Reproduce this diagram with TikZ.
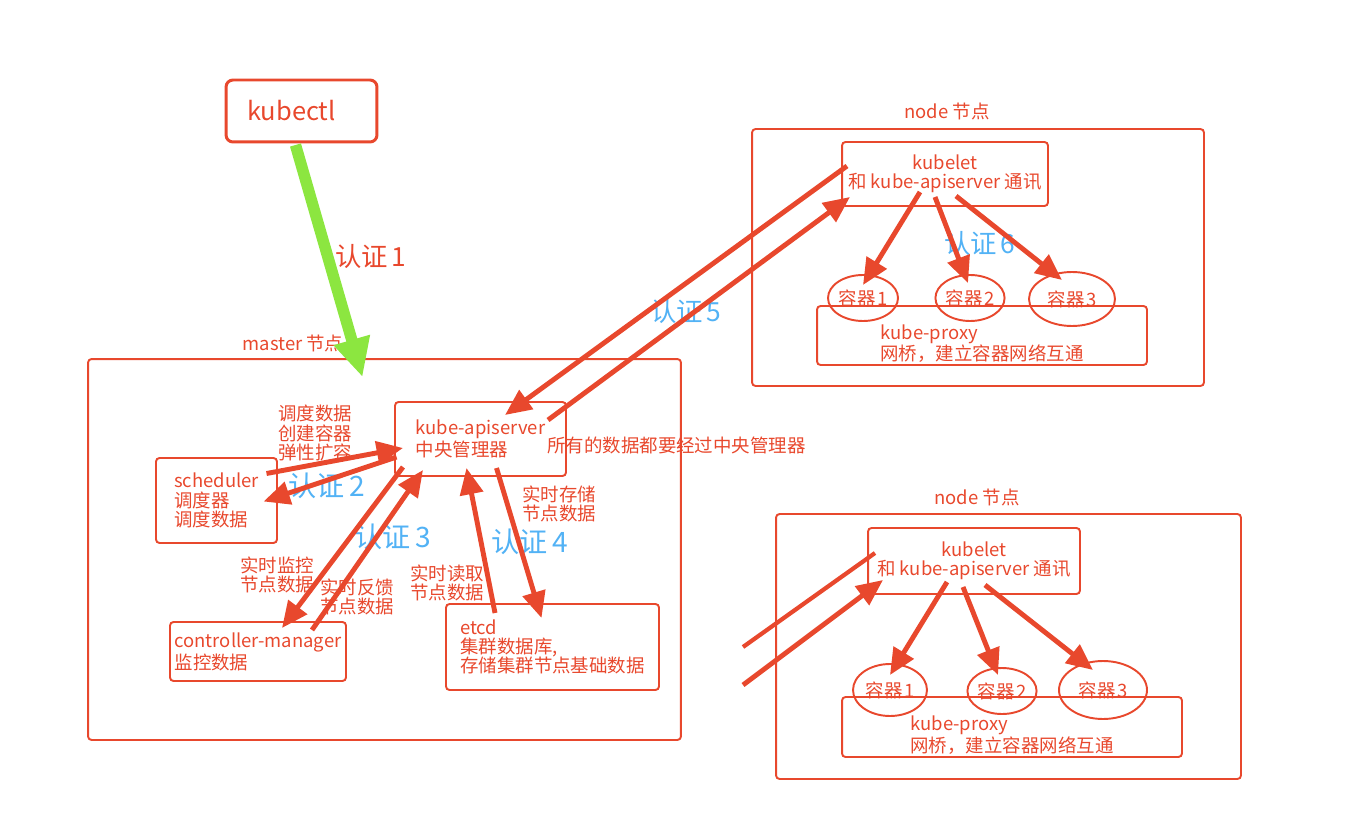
\documentclass[tikz,border=0pt]{standalone}
\usepackage{fontspec}
\setmainfont{Noto Sans CJK SC}
\usepackage{xcolor}
\usepackage{tikz}
\usetikzlibrary{positioning, arrows.meta, shapes.geometric, calc}

\definecolor{kred}{RGB}{232,72,45}
\definecolor{kblue}{RGB}{82,178,245}
\definecolor{kgreen}{RGB}{140,230,64}

\begin{document}
\begin{tikzpicture}[
        x=0.02cm, y=-0.02cm,
        every node/.style={font=\fontsize{10.5}{11}\selectfont, text=kred},
        box/.style={draw=kred, line width=1.1pt, rounded corners=2pt, rectangle, align=left, inner sep=0pt},
        region/.style={draw=kred, line width=1.1pt, rounded corners=2pt, rectangle, inner sep=0pt},
        pod/.style={draw=kred, line width=1.1pt, ellipse, inner sep=0pt},
        note/.style={align=left, anchor=west, inner sep=0pt},
        auth/.style={text=kblue, font=\fontsize{16}{18}\selectfont, inner sep=0pt},
        flow/.style={draw=kred, line width=2.8pt, -{Triangle[length=15pt, width=13pt]}},
        link/.style={draw=kred, line width=2.4pt},
        push/.style={draw=kgreen, line width=6.5pt, -{Triangle[length=22pt, width=20pt]}}
    ]
    \useasboundingbox (0,0) rectangle (1348,831);

    % --- Client ---
    \node[box, line width=1.7pt, rounded corners=4pt, align=center, minimum width=3.02cm, minimum height=1.24cm, font=\fontsize{14.5}{17}\selectfont] (kubectl) at (301.5,111) {kubectl\hspace*{0.4cm}};
    \node[font=\fontsize{15}{17}\selectfont, inner sep=0pt] (auth1) at (371,256) {认证\hspace{2pt}1};

    % --- Master ---
    \node[region, minimum width=11.86cm, minimum height=7.62cm] (master) at (384.5,549.5) {};
    \node (mastertitle) at (293,343) {master 节点};

    \node[box, minimum width=3.42cm, minimum height=1.48cm] (api) at (480.5,439) {kube-apiserver\\中央管理器};
    \node[box, minimum width=2.42cm, minimum height=1.7cm] (sched) at (216.5,500.5) {scheduler\\调度器\\调度数据};
    \node[box, minimum width=3.52cm, minimum height=1.18cm] (ctrl) at (258,651.5) {controller-manager\\监控数据};
    \node[box, minimum width=4.26cm, minimum height=1.72cm] (etcd) at (552.5,647) {etcd\\集群数据库,\\存储集群节点基础数据};

    \node[note] (schednote) at (278,433) {调度数据\\创建容器\\弹性扩容};
    \node[note] (apinote) at (547,445) {所有的数据都要经过中央管理器};
    \node[note] (watchnote) at (240,575) {实时监控\\节点数据};
    \node[note] (feednote) at (320,597) {实时反馈\\节点数据};
    \node[note] (readnote) at (410,583) {实时读取\\节点数据};
    \node[note] (storenote) at (522,504) {实时存储\\节点数据};

    \node[auth] (auth2) at (327,486) {认证\hspace{3pt}2};
    \node[auth] (auth3) at (393,537) {认证\hspace{3pt}3};
    \node[auth] (auth4) at (530,542) {认证\hspace{3pt}4};

    % --- Node 1 ---
    \node[region, minimum width=9.04cm, minimum height=5.14cm] (node1) at (978,257.5) {};
    \node (node1title) at (947,111) {node 节点};
    \node[box, align=center, minimum width=4.12cm, minimum height=1.28cm] (kubelet1) at (945,174) {kubelet\\和 kube-apiserver 通讯};
    \node[box, minimum width=6.6cm, minimum height=1.18cm] (proxy1) at (982,335.5) {\rule{0pt}{0.62cm}kube-proxy\\网桥，建立容器网络互通};
    \node[pod, minimum width=1.4cm, minimum height=0.92cm] (pod11) at (863,298) {容器\hspace{1pt}1};
    \node[pod, minimum width=1.28cm, minimum height=0.92cm] (pod12) at (970,298) {容器\hspace{1pt}2};
    \node[pod, minimum width=1.72cm, minimum height=1.08cm] (pod13) at (1072,299) {容器\hspace{1pt}3};
    \node[auth, font=\fontsize{15}{17}\selectfont] (auth5) at (686,311) {认证\hspace{2pt}5};
    \node[auth, font=\fontsize{15}{17}\selectfont] (auth6) at (980,243) {认证\hspace{2pt}6};

    % --- Node 2 ---
    \node[region, minimum width=9.3cm, minimum height=5.3cm] (node2) at (1008.5,646.5) {};
    \node (node2title) at (977,497) {node 节点};
    \node[box, align=center, minimum width=4.24cm, minimum height=1.32cm] (kubelet2) at (974,561) {kubelet\\和 kube-apiserver 通讯};
    \node[box, minimum width=6.8cm, minimum height=1.2cm] (proxy2) at (1012,727) {\rule{0pt}{0.62cm}kube-proxy\\网桥，建立容器网络互通};
    \node[pod, minimum width=1.48cm, minimum height=1.04cm] (pod21) at (890,690) {容器\hspace{1pt}1};
    \node[pod, minimum width=1.28cm, minimum height=0.92cm] (pod22) at (1002,691) {容器\hspace{1pt}2};
    \node[pod, minimum width=1.76cm, minimum height=1.16cm] (pod23) at (1103,690) {容器\hspace{1pt}3};
    \coordinate (cutA) at (743,647);
    \coordinate (cutB) at (743,685);

    % --- Arrows ---
    \draw[push] ($(kubectl)+(-6,34)$) -- ($(master.north)+(-22,19)$);

    \draw[flow] ($(sched)+(50,-27)$) -- ($(api)+(-77.5,9)$);
    \draw[flow] ($(api)+(-84,18)$) -- ($(sched)+(47,1)$);
    \draw[flow] ($(api)+(-77.5,28)$) -- ($(ctrl)+(24,-23.5)$);
    \draw[flow] ($(ctrl)+(54,-21.5)$) -- ($(api)+(-57.5,31)$);
    \draw[flow] ($(etcd)+(-57.5,-34)$) -- ($(api)+(-14,29)$);
    \draw[flow] ($(api)+(16,29)$) -- ($(etcd)+(-11,-29)$);

    \draw[flow] ($(kubelet1)+(-98,-8)$) -- ($(api)+(24.5,-24)$);
    \draw[flow] ($(api)+(67.5,-19)$) -- ($(kubelet1)+(-95,23)$);
    \draw[flow] ($(kubelet1)+(-25,18)$) -- ($(pod11)+(0,-13)$);
    \draw[flow] ($(kubelet1)+(-10,23)$) -- ($(pod12)+(-2,-15)$);
    \draw[flow] ($(kubelet1)+(11,22)$) -- ($(pod13)+(-10,-19)$);

    \draw[link] ($(kubelet2)+(-99,-8)$) -- (cutA);
    \draw[flow] (cutB) -- ($(kubelet2)+(-91,19)$);
    \draw[flow] ($(kubelet2)+(-27,21)$) -- ($(pod21)+(0,-15)$);
    \draw[flow] ($(kubelet2)+(-11,26)$) -- ($(pod22)+(-4,-16)$);
    \draw[flow] ($(kubelet2)+(11,24)$) -- ($(pod23)+(-10,-20)$);

\end{tikzpicture}
\end{document}
